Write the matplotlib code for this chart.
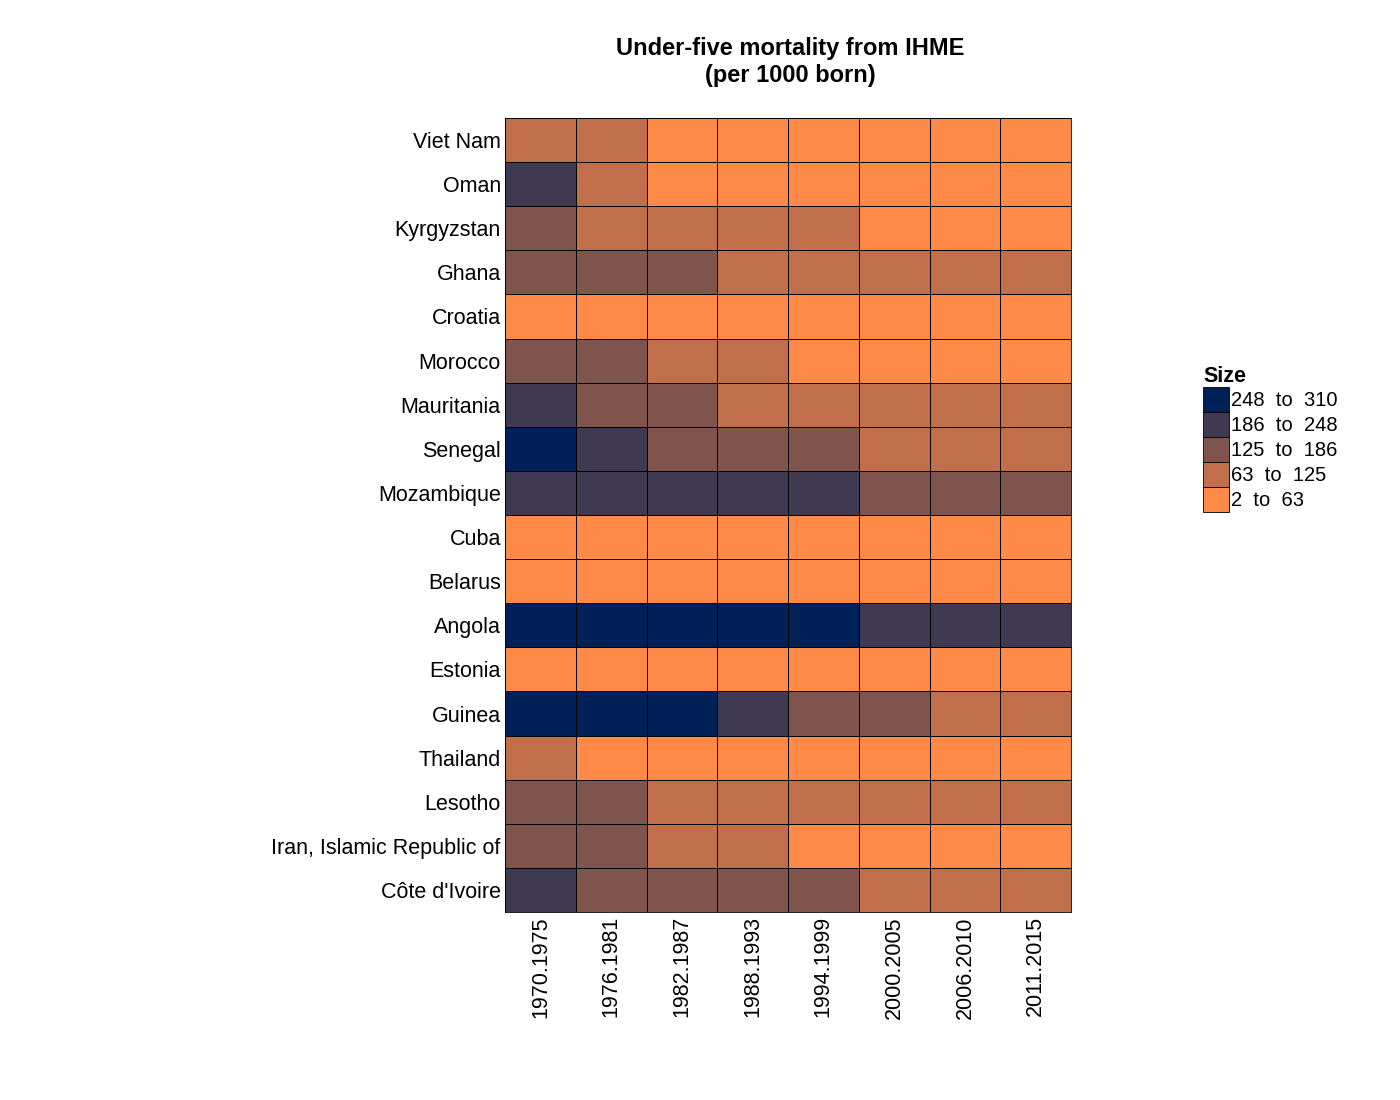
import matplotlib.pyplot as plt
import numpy as np
from matplotlib.colors import ListedColormap, BoundaryNorm
from matplotlib.patches import Patch

plt.rcParams['font.family'] = ['Liberation Sans', 'DejaVu Sans']

# Ülkeler (üstten alta) ve dönemler
countries = ["Viet Nam", "Oman", "Kyrgyzstan", "Ghana", "Croatia", "Morocco",
             "Mauritania", "Senegal", "Mozambique", "Cuba", "Belarus", "Angola",
             "Estonia", "Guinea", "Thailand", "Lesotho",
             "Iran, Islamic Republic of", "Côte d'Ivoire"]
periods = ["1970.1975", "1976.1981", "1982.1987", "1988.1993",
           "1994.1999", "2000.2005", "2006.2010", "2011.2015"]

# 5 yaş altı ölüm (1000 doğumda), resimden tahmini
viet_nam = [85, 70, 55, 45, 38, 28, 24, 22]
oman = [200, 110, 55, 35, 22, 14, 11, 10]
kyrgyzstan = [140, 120, 100, 80, 70, 45, 35, 25]
ghana = [170, 150, 130, 115, 105, 95, 80, 70]
croatia = [30, 22, 18, 14, 10, 8, 6, 5]
morocco = [180, 140, 110, 80, 60, 45, 35, 30]
mauritania = [200, 175, 150, 120, 110, 105, 100, 90]
senegal = [270, 230, 180, 150, 135, 115, 90, 70]
mozambique = [245, 240, 235, 230, 210, 170, 140, 130]
cuba = [40, 25, 18, 14, 10, 8, 6, 5]
belarus = [35, 28, 22, 18, 15, 12, 8, 5]
angola = [300, 295, 290, 280, 260, 230, 210, 195]
estonia = [25, 20, 18, 16, 12, 8, 5, 3]
guinea = [305, 290, 260, 230, 180, 140, 110, 95]
thailand = [80, 55, 40, 33, 28, 20, 15, 12]
lesotho = [170, 140, 110, 100, 95, 115, 120, 100]
iran = [160, 130, 90, 65, 50, 35, 25, 18]
cote_divoire = [210, 180, 160, 150, 140, 120, 110, 100]

values = np.array([viet_nam, oman, kyrgyzstan, ghana, croatia, morocco,
                   mauritania, senegal, mozambique, cuba, belarus, angola,
                   estonia, guinea, thailand, lesotho, iran, cote_divoire])

bounds = [2, 63, 125, 186, 248, 310]
colors = ["#FF8946", "#C06F4A", "#7F544D", "#3F3A51", "#002157"]
legend_labels = ["248  to  310", "186  to  248", "125  to  186",
                 "63  to  125", "2  to  63"]

cmap = ListedColormap(colors)
norm = BoundaryNorm(bounds, cmap.N)

fig = plt.figure(figsize=(14, 11), dpi=100)
ax = fig.add_axes([505 / 1400, 1 - 912 / 1100, 566 / 1400, 794 / 1100])

ax.pcolormesh(values, cmap=cmap, norm=norm, edgecolors="black", linewidth=0.6)
ax.set_xlim(0, len(periods))
ax.set_ylim(len(countries), 0)

ax.set_xticks(np.arange(len(periods)) + 0.5)
ax.set_xticklabels(periods, rotation=90, fontsize=15.5)
ax.set_yticks(np.arange(len(countries)) + 0.5)
ax.set_yticklabels(countries, fontsize=15.5)
ax.tick_params(length=0, pad=3)
for s in ax.spines.values():
    s.set_linewidth(0.6)

fig.text(790 / 1400, 1 - 62 / 1100,
         "Under-five mortality from IHME\n(per 1000 born)",
         ha="center", va="center", fontsize=17, fontweight="bold",
         linespacing=1.2)

handles = [Patch(facecolor=c, edgecolor="black", linewidth=0.6)
           for c in colors[::-1]]
leg = fig.legend(handles, legend_labels, loc="upper left",
                 bbox_to_anchor=(1203 / 1400, 1 - 366 / 1100),
                 frameon=False, fontsize=14.5, title="Size",
                 title_fontproperties={"weight": "bold", "size": 15.5},
                 handlelength=1.29, handleheight=1.53, handletextpad=0.1,
                 labelspacing=0, borderpad=0, borderaxespad=0)
leg._legend_box.align = "left"

fig.savefig("out.png", dpi=100)
